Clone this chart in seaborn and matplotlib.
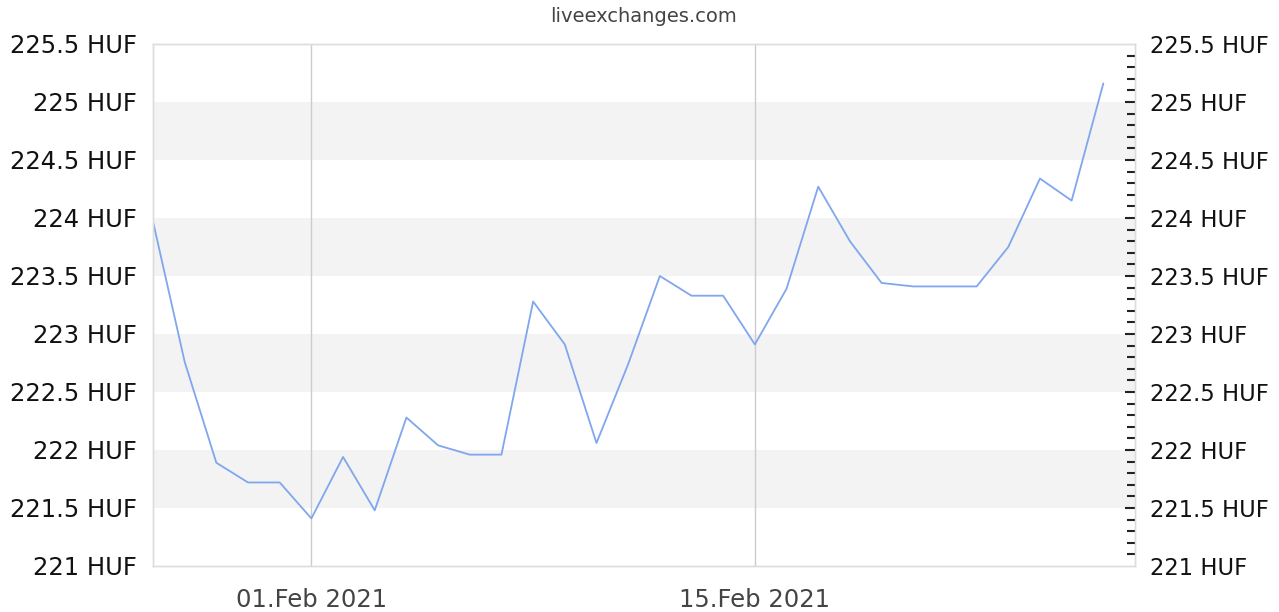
import numpy as np
import pandas as pd
import matplotlib
matplotlib.use("Agg")
import matplotlib.pyplot as plt
import matplotlib.dates as mdates
from matplotlib.ticker import MultipleLocator, FuncFormatter
import seaborn as sns

# daily EUR/HUF rates
dates = pd.date_range("2021-01-27", "2021-02-26", freq="D")
rates = [223.97, 222.76, 221.89, 221.72, 221.72, 221.41, 221.94, 221.48,
         222.28, 222.04, 221.96, 221.96, 223.28, 222.91, 222.06, 222.74,
         223.50, 223.33, 223.33, 222.91, 223.39, 224.27, 223.80, 223.44,
         223.41, 223.41, 223.41, 223.75, 224.34, 224.15, 225.16]
band_starts = [221.5, 222.5, 223.5, 224.5]
tick_dates = ["2021-02-01", "2021-02-15"]

df = pd.DataFrame({"date": dates, "rate": rates})

sns.set_theme(style="white")
plt.rcParams['font.family'] = ['DejaVu Sans']

fig = plt.figure(figsize=(12.79, 6.12), dpi=100)
ax = fig.add_axes([153 / 1279, 1 - 566 / 612, (1135 - 153) / 1279, (566 - 44) / 612])

# alternating light bands
for b in band_starts:
    ax.axhspan(b, b + 0.5, color="#f3f3f3", lw=0, zorder=0)

# vertical gridlines at tick dates
for d in tick_dates:
    ax.axvline(pd.Timestamp(d), color="#cccccc", lw=1, zorder=1)

sns.lineplot(data=df, x="date", y="rate", ax=ax, color="#7fa6ee", lw=1.3, zorder=3)

ax.set_xlim(pd.Timestamp("2021-01-27"), pd.Timestamp("2021-02-27"))
ax.set_ylim(221, 225.5)
ax.set_xlabel("")
ax.set_ylabel("")

ax.set_xticks([pd.Timestamp(d) for d in tick_dates])
ax.xaxis.set_major_formatter(mdates.DateFormatter("%d.%b %Y"))
ax.tick_params(axis="x", length=0, labelsize=17.5, labelcolor="#444444", pad=16)

fmt = FuncFormatter(lambda v, p: f"{v:g} HUF")
ax.yaxis.set_major_locator(MultipleLocator(0.5))
ax.yaxis.set_major_formatter(fmt)

# right axis with minor ticks
ax2 = ax.twinx()
ax2.set_ylim(ax.get_ylim())
ax2.yaxis.set_major_locator(MultipleLocator(0.5))
ax2.yaxis.set_minor_locator(MultipleLocator(0.1))
ax2.yaxis.set_major_formatter(fmt)
ax2.tick_params(axis="y", which="major", direction="in", length=7, width=1.5, color="#222222",
                labelsize=16.3, labelcolor="#111111", pad=11)
ax2.tick_params(axis="y", which="minor", direction="in", length=5.5, width=1.5, color="#222222")

# twinx turns the left ticks back on
ax.tick_params(axis="y", which="both", left=True, length=0, labelsize=17.5,
               labelcolor="#111111", pad=11.5)

for a in (ax, ax2):
    for s in a.spines.values():
        s.set_color("#dddddd")
        s.set_linewidth(1)

fig.text((153 + 1135) / 2 / 1279, 1 - 17 / 612, "liveexchanges.com", ha="center", va="center",
         fontsize=14, color="#444444")

# no tick marks at the ends of the right axis
fig.canvas.draw()
for t in ax2.yaxis.get_major_ticks():
    if abs(t.get_loc() - 221) < 1e-6 or abs(t.get_loc() - 225.5) < 1e-6:
        t.tick2line.set_visible(False)

fig.savefig("out.png", dpi=100)
